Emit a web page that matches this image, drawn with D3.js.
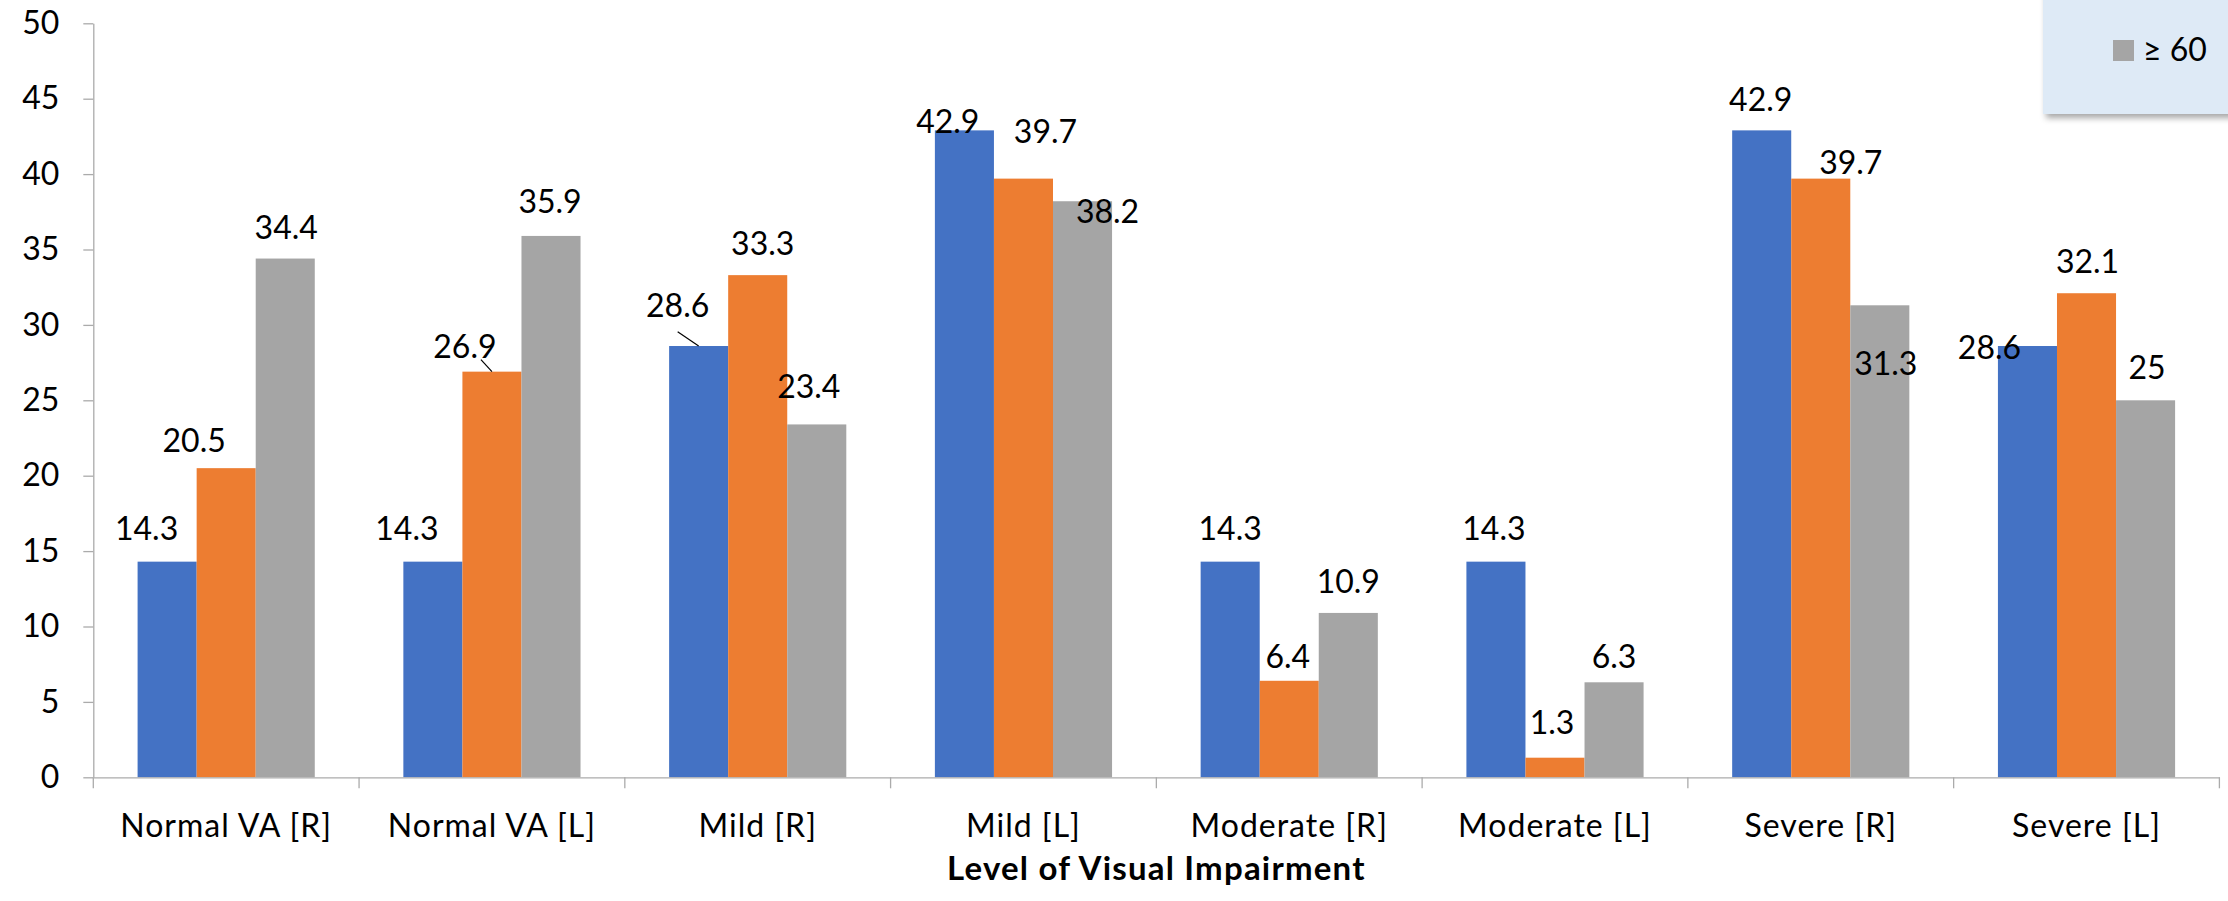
<!DOCTYPE html>
<html>
<head>
<meta charset="utf-8">
<script src="https://cdn.jsdelivr.net/npm/d3@7/dist/d3.min.js"></script>
<style>
  html, body { margin: 0; padding: 0; background: #fff; }
  svg { display: block; }
  text { font-family: Lato, "Open Sans", sans-serif; fill: #000; }
</style>
</head>
<body>
<svg id="chart" width="2228" height="901"></svg>
<script>
// Categories on the x axis
const categories = [
  "Normal VA [R]", "Normal VA [L]", "Mild [R]", "Mild [L]",
  "Moderate [R]", "Moderate [L]", "Severe [R]", "Severe [L]"
];

// Series (percent per level of visual impairment)
const seriesKeys = ["a", "b", "c"];
const seriesA = [14.3, 14.3, 28.6, 42.9, 14.3, 14.3, 42.9, 28.6];
const seriesB = [20.5, 26.9, 33.3, 39.7, 6.4, 1.3, 39.7, 32.1];
const seriesC = [34.4, 35.9, 23.4, 38.2, 10.9, 6.3, 31.3, 25];

// Legend entry that is visible
const legendLabel = "≥ 60";

// Y axis ticks
const yTicks = [0, 5, 10, 15, 20, 25, 30, 35, 40, 45, 50];

const xTitle = "Level of Visual Impairment";

// Styling
const colors = { a: "#4472C4", b: "#ED7D31", c: "#A5A5A5" };
const axisColor = "#ABABAB";

// Hand-placed data label offsets: [dx from bar centre, dy of baseline from bar top]
const labelNudge = {
  a: [[-20.5, -21.6], [-26, -21.6], [-21, -29.3], [-16.6, 2.3], [0, -21.6], [-2, -21.6], [-1, -19.4], [-38, 12.5]],
  b: [[-32, -16], [-27, -14], [5, -20.6], [22, -35.3], [-1.5, -12.8], [-3, -24], [30, -4.6], [1, -20]],
  c: [[1, -20], [-1, -22.5], [-8, -26], [25, 22], [0, -20], [0, -14], [6, 70], [1.5, -21]]
};
// Leader lines: label, and where the line leaves the label (offset from label anchor)
const leaders = [
  { key: "b", index: 1, sx: 16, sy: 2 },
  { key: "a", index: 2, sx: 0, sy: 15 }
];

const rows = categories.map((cat, i) => ({
  category: cat,
  a: seriesA[i],
  b: seriesB[i],
  c: seriesC[i]
}));

const svg = d3.select("#chart");

const plot = { left: 93.3, right: 2219.4, top: 23.3, bottom: 777.3 };

const x0 = d3.scaleBand()
  .domain(categories)
  .range([plot.left, plot.right])
  .paddingInner(0)
  .paddingOuter(0);

const x1 = d3.scaleBand()
  .domain(seriesKeys)
  .range([0, x0.bandwidth()])
  .paddingInner(0)
  .paddingOuter(0.75);

const y = d3.scaleLinear()
  .domain([0, 50])
  .range([plot.bottom, plot.top]);

const fmt = v => String(v);

// Defs: legend shadow
const defs = svg.append("defs");
const shadow = defs.append("filter")
  .attr("id", "legendShadow")
  .attr("x", "-20%").attr("y", "-20%")
  .attr("width", "150%").attr("height", "160%");
shadow.append("feDropShadow")
  .attr("dx", 3).attr("dy", 4)
  .attr("stdDeviation", 3)
  .attr("flood-color", "#000")
  .attr("flood-opacity", 0.35);

// Y axis
const yAxis = svg.append("g")
  .attr("transform", `translate(${plot.left},0)`)
  .call(d3.axisLeft(y).tickValues(yTicks).tickSize(10).tickPadding(24).tickSizeOuter(0));
yAxis.select(".domain").attr("stroke", axisColor).attr("stroke-width", 1.3);
yAxis.selectAll(".tick line").attr("stroke", axisColor).attr("stroke-width", 1.3);
yAxis.selectAll(".tick text")
  .attr("font-size", 32)
  .attr("font-family", "Lato, sans-serif")
  .attr("fill", "#000");

// Bars
const groups = svg.append("g")
  .selectAll("g")
  .data(rows)
  .join("g")
  .attr("transform", d => `translate(${x0(d.category)},0)`);

groups.selectAll("rect")
  .data(d => seriesKeys.map(k => ({ key: k, value: d[k] })))
  .join("rect")
  .attr("x", d => x1(d.key))
  .attr("y", d => y(d.value))
  .attr("width", x1.bandwidth())
  .attr("height", d => y(0) - y(d.value))
  .attr("fill", d => colors[d.key]);

// X axis: baseline with category-boundary ticks, labels centred on bands
const xAxis = svg.append("g")
  .attr("transform", `translate(0,${plot.bottom})`)
  .call(d3.axisBottom(x0).tickSize(0).tickSizeOuter(0));
xAxis.select(".domain").attr("stroke", axisColor).attr("stroke-width", 1.3);
xAxis.selectAll(".tick text")
  .attr("font-size", 32)
  .attr("font-family", "Lato, sans-serif")
  .attr("letter-spacing", 1)
  .attr("fill", "#000")
  .attr("y", 59.7)
  .attr("dy", 0);

const boundaries = categories.map(c => x0(c)).concat([plot.right]);
xAxis.selectAll(".boundary")
  .data(boundaries)
  .join("line")
  .attr("class", "boundary")
  .attr("x1", d => d).attr("x2", d => d)
  .attr("y1", 0).attr("y2", 11)
  .attr("stroke", axisColor)
  .attr("stroke-width", 1.3);

// Axis title
svg.append("text")
  .attr("x", (plot.left + plot.right) / 2)
  .attr("y", 880)
  .attr("text-anchor", "middle")
  .attr("font-size", 33)
  .attr("letter-spacing", 1.2)
  .attr("font-weight", "bold")
  .text(xTitle);

// Data labels
const labelData = [];
rows.forEach((d, i) => {
  seriesKeys.forEach(k => {
    const cx = x0(d.category) + x1(k) + x1.bandwidth() / 2;
    const top = y(d[k]);
    const [dx, dy] = labelNudge[k][i];
    labelData.push({ key: k, index: i, value: d[k], cx, top, lx: cx + dx, ly: top + dy });
  });
});

svg.append("g")
  .selectAll("text")
  .data(labelData)
  .join("text")
  .attr("x", d => d.lx)
  .attr("y", d => d.ly)
  .attr("text-anchor", "middle")
  .attr("font-size", 32)
  .text(d => fmt(d.value));

// Leader lines from moved labels back to their bars
svg.append("g")
  .selectAll("line")
  .data(leaders.map(l => ({ l, d: labelData.find(d => d.key === l.key && d.index === l.index) })))
  .join("line")
  .attr("x1", ({ l, d }) => d.lx + l.sx)
  .attr("y1", ({ l, d }) => d.ly + l.sy)
  .attr("x2", ({ d }) => d.cx)
  .attr("y2", ({ d }) => d.top)
  .attr("stroke", "#000")
  .attr("stroke-width", 1.2);

// Legend box (partly visible at the top right)
const legend = svg.append("g");
legend.append("rect")
  .attr("x", 2043)
  .attr("y", -10)
  .attr("width", 200)
  .attr("height", 124)
  .attr("fill", "#DEEAF6")
  .attr("filter", "url(#legendShadow)");
legend.append("rect")
  .attr("x", 2113)
  .attr("y", 40)
  .attr("width", 21)
  .attr("height", 21)
  .attr("fill", colors.c);
legend.append("text")
  .attr("x", 2143)
  .attr("y", 61)
  .attr("font-size", 32)
  .text(legendLabel);
</script>
</body>
</html>
